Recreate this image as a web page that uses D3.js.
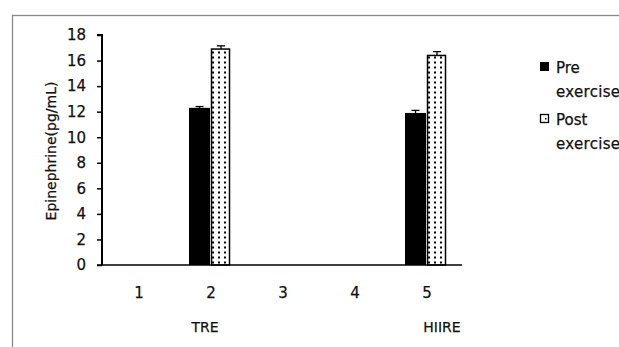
<!DOCTYPE html>
<html>
<head>
<meta charset="utf-8">
<script src="https://cdn.jsdelivr.net/npm/d3@7"></script>
<style>
  body { margin: 0; background: #fff; }
  svg { font-family: "DejaVu Sans", Verdana, sans-serif; }
  svg text { fill: #111; stroke: #111; stroke-width: 0.25; }
</style>
</head>
<body>
<script>
// data
var categories = ["1", "2", "3", "4", "5"];
var groupNames = ["", "TRE", "", "", "HIIRE"];
var preValues  = [null, 12.3, null, null, 11.9];
var preErr     = [null, 0.1, null, null, 0.2];
var postValues = [null, 16.9, null, null, 16.4];
var postErr    = [null, 0.25, null, null, 0.3];
var yTicks = [0, 2, 4, 6, 8, 10, 12, 14, 16, 18];
var seriesNames = ["Pre exercise", "Post exercise"];

var W = 619, H = 347;
var svg = d3.select("body").append("svg").attr("width", W).attr("height", H);

var defs = svg.append("defs");
var pat = defs.append("pattern").attr("id", "dots")
    .attr("patternUnits", "userSpaceOnUse")
    .attr("width", 6).attr("height", 5);
pat.append("rect").attr("width", 6).attr("height", 5).attr("fill", "#fff");
pat.append("rect").attr("x", 2).attr("y", 1.5).attr("width", 2).attr("height", 2).attr("fill", "#000");

// outer frame
svg.append("rect").attr("x", 12.5).attr("y", 15.5).attr("width", 620).attr("height", 340)
   .attr("fill", "none").attr("stroke", "#888").attr("stroke-width", 1.3);

var x = d3.scaleBand().domain(categories).range([102, 462]);
var y = d3.scaleLinear().domain([0, 18]).range([265, 35]);

var barW = 21;

// y axis
var yAxis = svg.append("g").attr("transform", "translate(102,0)")
  .call(d3.axisLeft(y).tickValues(yTicks).tickSize(5).tickPadding(11));
yAxis.select(".domain").attr("stroke", "#000").attr("stroke-width", 2).attr("d", "M-5,35H0V265");
yAxis.selectAll(".tick line").attr("stroke", "#000").attr("stroke-width", 1.5);
yAxis.selectAll("text").attr("font-size", 15).attr("font-family", "DejaVu Sans");

svg.append("text").attr("transform", "translate(56,151) rotate(-90)")
  .attr("text-anchor", "middle").attr("font-size", 14).text("Epinephrine(pg/mL)");

// bars
var idx = d3.range(categories.length).filter(function(i){ return preValues[i] != null; });

svg.selectAll(".pre").data(idx).enter().append("rect").attr("class", "pre")
  .attr("x", function(i){ return x(categories[i]) + x.bandwidth()/2 - barW; })
  .attr("y", function(i){ return y(preValues[i]); })
  .attr("width", barW)
  .attr("height", function(i){ return y(0) - y(preValues[i]); })
  .attr("fill", "#000");

svg.selectAll(".post").data(idx).enter().append("rect").attr("class", "post")
  .attr("x", function(i){ return x(categories[i]) + x.bandwidth()/2 + 1.5; })
  .attr("y", function(i){ return y(postValues[i]); })
  .attr("width", barW - 3)
  .attr("height", function(i){ return y(0) - y(postValues[i]); })
  .attr("fill", "url(#dots)").attr("stroke", "#000").attr("stroke-width", 1.5);

// error bars (upper only)
function errBars(vals, errs, dx) {
  idx.forEach(function(i){
    var cx = x(categories[i]) + x.bandwidth()/2 + dx;
    var top = y(vals[i] + errs[i]);
    svg.append("line").attr("x1", cx).attr("x2", cx).attr("y1", y(vals[i])).attr("y2", top)
      .attr("stroke", "#000").attr("stroke-width", 1.3);
    svg.append("line").attr("x1", cx - 4).attr("x2", cx + 4).attr("y1", top).attr("y2", top)
      .attr("stroke", "#000").attr("stroke-width", 1.3);
  });
}
errBars(preValues, preErr, -barW/2);
errBars(postValues, postErr, barW/2 + 0.5);

// x axis
svg.append("line").attr("x1", 97).attr("x2", 462).attr("y1", 265).attr("y2", 265)
  .attr("stroke", "#000").attr("stroke-width", 1.5);

svg.selectAll(".cat").data(categories).enter().append("text")
  .attr("x", function(d){ return x(d) + x.bandwidth()/2 + 1; })
  .attr("y", 298).attr("text-anchor", "middle").attr("font-size", 15).text(function(d){ return d; });

svg.selectAll(".grp").data(groupNames).enter().append("text")
  .attr("x", function(d, i){ return x(categories[i]) + x.bandwidth()/2 - 5 + (i === 4 ? 21 : 0); })
  .attr("y", 332).attr("text-anchor", "middle").attr("font-size", 14).text(function(d){ return d; });

// legend
var leg = svg.append("g");
[0, 1].forEach(function(k){
  var ly = 62 + k * 52;
  leg.append("rect").attr("x", 540.5).attr("y", ly + 0.5).attr("width", 8).attr("height", 8)
    .attr("fill", k === 0 ? "#000" : "#fff").attr("stroke", "#000").attr("stroke-width", k === 0 ? 1 : 1.3);
  if (k === 1) leg.append("rect").attr("x", 545).attr("y", ly + 4).attr("width", 1.5).attr("height", 1.5).attr("fill", "#000");
  var words = seriesNames[k].split(" ");
  leg.append("text").attr("x", 556).attr("y", ly + 11).attr("font-size", 15).text(words[0]);
  leg.append("text").attr("x", 556).attr("y", ly + 35).attr("font-size", 15).attr("letter-spacing", 0.3).text(words[1]);
});
</script>
</body>
</html>
